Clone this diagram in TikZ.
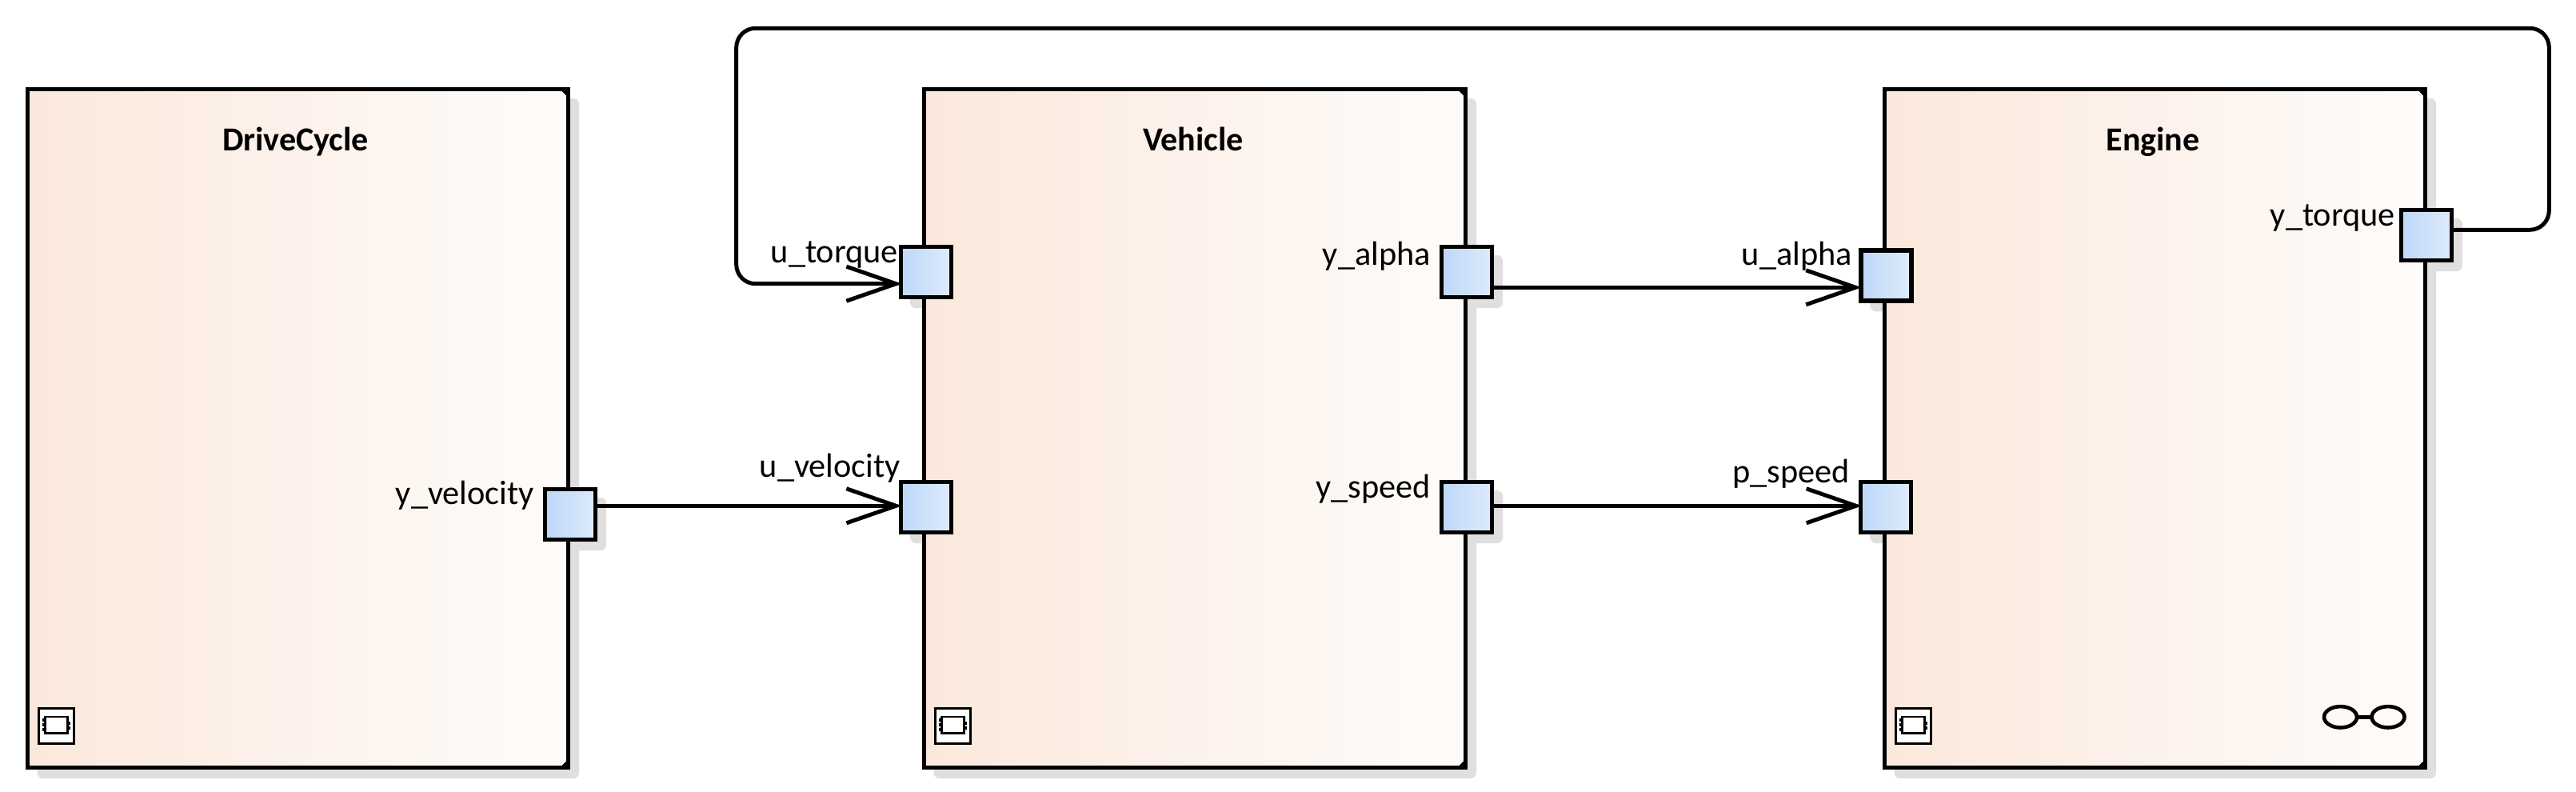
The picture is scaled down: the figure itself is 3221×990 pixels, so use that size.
\documentclass[tikz,border=0pt]{standalone}
\usepackage{fontspec}
\setmainfont{Carlito}
\usetikzlibrary{arrows.meta}
\definecolor{blockL}{RGB}{251,232,220}
\definecolor{blockM}{RGB}{251,242,234}
\definecolor{blockR}{RGB}{254,252,250}
\definecolor{portL}{RGB}{189,216,248}
\definecolor{portR}{RGB}{222,234,251}
\definecolor{shade}{RGB}{223,223,223}
\tikzset{
  blockbox/.style={draw=black,line width=5pt,left color=blockL,middle color=blockM,right color=blockR,shading angle=90,
    minimum height=848pt,inner sep=0pt,anchor=center},
  portbox/.style={draw=black,line width=5pt,left color=portL,right color=portR,minimum width=63pt,minimum height=63pt,inner sep=0pt,anchor=center},
  shadowfill/.style={fill=shade,rounded corners=7pt},
  titletext/.style={font=\fontsize{42}{48}\selectfont\bfseries,inner sep=0pt,anchor=base},
  porttext/.style={font=\fontsize{42.3}{50}\selectfont,inner sep=0pt,anchor=base east},
  link/.style={draw=black,line width=5pt},
  linkarrow/.style={link,-{Straight Barb[length=62pt,width=43pt,line width=5pt]}},
  iconline/.style={draw=black,line width=3.5pt},
  corner/.style={fill=black}
}
\newcommand{\blockshadow}[2]{\fill[shadowfill] (#1+12,123) rectangle (#2+14,973);}
\newcommand{\portshadow}[2]{\fill[shadowfill] (#1-20,#2-21) rectangle (#1+45,#2+45);}
\newcommand{\blockcorners}[1]{%
  \fill[corner] ([shift={(-4pt,-4pt)}]#1.north east) -- ([shift={(-11pt,-4pt)}]#1.north east) -- ([shift={(-4pt,-11pt)}]#1.north east) -- cycle;
  \fill[corner] ([shift={(-4pt,4pt)}]#1.south east) -- ([shift={(-11pt,4pt)}]#1.south east) -- ([shift={(-4pt,11pt)}]#1.south east) -- cycle;}
\newcommand{\compicon}[1]{%
  \begin{scope}[shift={(#1,907.5)}]
    \draw[iconline,fill=white] (-22,-22) rectangle (22,22);
    \draw[iconline,fill=white,line width=2.8pt] (-14,-11.5) rectangle (14,9);
    \fill (-17.5,-9.5) rectangle (-14,-5.5);
    \fill (-17.5,-3.5) rectangle (-14,0.5);
    \fill (-17.5,2.5) rectangle (-14,6);
    \fill (14,-6) rectangle (17,-2);
    \fill (14,0) rectangle (17,4);
  \end{scope}}
\begin{document}
\begin{tikzpicture}[x=1pt,y=-1pt]
\useasboundingbox (0,0) rectangle (3221,990);
% shadows
\blockshadow{34.7}{710}
\blockshadow{1155.5}{1832}
\blockshadow{2356.5}{3032}
\portshadow{713}{643}
\portshadow{1158}{340}
\portshadow{1158}{634}
\portshadow{1834}{340}
\portshadow{1834}{634}
\portshadow{2358.3}{344.3}
\portshadow{2358.3}{634}
\portshadow{3034}{294}
% blocks
\node[blockbox,minimum width=675.3pt] (drive) at (372.35,535.5) {};
\node[blockbox,minimum width=676.5pt] (vehicle) at (1493.75,535.5) {};
\node[blockbox,minimum width=675.5pt] (engine) at (2694.25,535.5) {};
\blockcorners{drive}
\blockcorners{vehicle}
\blockcorners{engine}
\node[titletext] (tdrive) at (369.5,188) {DriveCycle};
\node[titletext] (tvehicle) at (1492,188) {Vehicle};
\node[titletext] (tengine) at (2692,188) {Engine};
% icons
\compicon{70.5}
\compicon{1191.5}
\compicon{2392.5}
\draw[line width=4.6pt] (2926.5,896.3) ellipse [x radius=20.5, y radius=13.2];
\draw[line width=4.6pt] (2986,896.3) ellipse [x radius=20.5, y radius=13.2];
\draw[line width=4.6pt] (2947,896.3) -- (2965.5,896.3);
% ports
\node[portbox] (yv) at (713,643) {};
\node[portbox] (ut) at (1158,340) {};
\node[portbox] (uv) at (1158,634) {};
\node[portbox] (ya) at (1834,340) {};
\node[portbox] (ys) at (1834,634) {};
\node[portbox,line width=6pt] (ua) at (2358.3,344.3) {};
\node[portbox] (ps) at (2358.3,634) {};
\node[portbox] (yt) at (3034,294) {};
% port labels
\node[porttext] (lyv) at (668,630) {y\_velocity};
\node[porttext] (lut) at (1123,328) {u\_torque};
\node[porttext] (luv) at (1126,596) {u\_velocity};
\node[porttext] (lya) at (1789,331) {y\_alpha};
\node[porttext] (lys) at (1789,622) {y\_speed};
\node[porttext] (lua) at (2316,331) {u\_alpha};
\node[porttext] (lps) at (2313,603) {p\_speed};
\node[porttext] (lyt) at (2995,282) {y\_torque};
% connectors
\draw[linkarrow] ([yshift=10.7pt]yv.east) -- ([shift={(4pt,1.7pt)}]uv.west);
\draw[linkarrow] ([yshift=-19.3pt]ya.east) -- ([shift={(4pt,-15pt)}]ua.west);
\draw[linkarrow] ([yshift=1.7pt]ys.east) -- ([shift={(4pt,1.7pt)}]ps.west);
\coordinate (loopa) at (3187.3,35.3);
\coordinate (loopb) at (920.7,354.7);
\draw[linkarrow,rounded corners=24pt] ([yshift=6.7pt]yt.east) -| (loopa) -| (loopb) -- ([shift={(4pt,-14.7pt)}]ut.west);
\end{tikzpicture}
\end{document}
